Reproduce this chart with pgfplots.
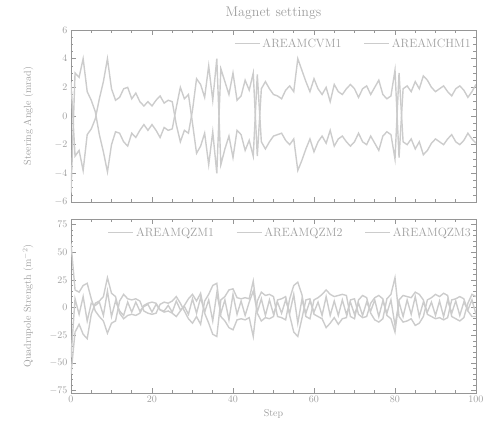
\documentclass[border=0pt]{standalone}
\usepackage{pgfplots}
\usepackage{pgfplotstable}
\pgfplotsset{compat=1.18}
\definecolor{linegray}{RGB}{204,204,204}
\definecolor{textgray}{RGB}{158,158,158}
\definecolor{framegray}{RGB}{150,150,150}

\pgfplotstableread{
s A B
0 -5.4 2.4
1 3.0 -2.8
2 2.7 -2.4
3 4.0 -3.8
4 1.7 -1.3
5 1.1 -0.9
6 0.3 -0.2
7 -1.3 1.2
8 -2.5 2.4
9 -3.9 4.0
10 -2.0 1.9
11 -1.1 1.1
12 -1.2 1.3
13 -1.8 1.9
14 -2.1 2.0
15 -1.2 1.2
16 -1.5 1.6
17 -1.0 1.0
18 -0.6 0.7
19 -1.0 1.0
20 -0.6 0.7
21 -1.0 1.1
22 -1.5 1.4
23 -0.8 0.9
24 -1.0 1.1
25 -0.9 1.0
26 0.6 -0.6
27 2.0 -1.8
28 1.2 -1.0
29 1.5 -1.2
30 -0.5 0.4
31 -2.6 2.6
32 -2.1 2.2
33 -1.2 1.3
34 -3.4 3.5
35 -1.1 1.1
36 -4.0 4.0
37 3.3 -3.4
38 2.4 -2.3
39 1.5 -1.4
40 3.0 -2.9
41 1.1 -1.0
42 1.4 -1.3
43 2.5 -2.4
44 1.8 -1.7
45 3.0 -2.8
46 -2.8 2.9
47 1.9 -1.8
48 2.4 -2.3
49 1.9 -1.8
50 1.5 -1.4
51 1.4 -1.3
52 1.2 -1.2
53 1.8 -1.7
54 2.1 -2.0
55 1.7 -1.6
56 4.0 -3.8
57 3.2 -3.1
58 2.4 -2.3
59 1.7 -1.6
60 2.6 -2.5
61 1.9 -1.8
62 1.5 -1.4
63 2.0 -1.9
64 1.0 -1.0
65 2.2 -2.1
66 1.7 -1.6
67 1.5 -1.4
68 1.9 -1.8
69 2.2 -2.1
70 1.9 -1.8
71 1.3 -1.2
72 1.9 -1.8
73 2.1 -2.0
74 1.5 -1.4
75 2.0 -1.9
76 2.5 -2.4
77 1.5 -1.4
78 1.2 -1.1
79 1.4 -1.3
80 3.2 -3.0
81 -2.9 3.0
82 1.9 -1.8
83 2.1 -2.0
84 1.7 -1.6
85 2.4 -2.3
86 1.9 -1.8
87 2.8 -2.7
88 2.5 -2.4
89 2.0 -1.9
90 1.7 -1.6
91 1.9 -1.8
92 2.1 -2.0
93 1.7 -1.6
94 1.4 -1.3
95 1.9 -1.8
96 2.1 -2.0
97 1.8 -1.7
98 1.3 -1.2
99 1.7 -1.6
100 2.2 -1.9
}\steer

\pgfplotstableread{
s Qa Qb Qc
0 58 -45 -60
1 16 8 -22
2 14 -6 -15
3 20 10 -24
4 22 -12 -28
5 8 4 -6
6 -3 2 4
7 -8 5 6
8 -12 -7 10
9 -23 15 27
10 -14 -8 13
11 -12 6 10
12 6 -3 -5
13 12 -7 -10
14 8 5 -7
15 7 -4 -6
16 8 5 -7
17 6 -3 -5
18 -3 1 2
19 -5 3 4
20 -6 -4 5
21 -5 3 4
22 3 -2 -2
23 5 -3 -4
24 4 2 -3
25 6 -4 -5
26 10 6 -8
27 4 -2 -3
28 -3 1 2
29 -10 -6 8
30 -14 8 12
31 -8 -5 6
32 -15 9 13
33 6 -4 -5
34 12 7 -14
35 20 -12 -24
36 22 13 -26
37 -8 -5 7
38 -12 7 10
39 -18 -11 16
40 -20 12 17
41 -11 -6 9
42 -10 6 8
43 -11 -7 9
44 -9 5 8
45 -26 15 24
46 6 -4 -5
47 14 8 -12
48 11 -7 -9
49 12 7 -10
50 10 -6 -8
51 -8 5 7
52 -9 -5 8
53 -11 7 10
54 8 -5 -7
55 20 12 -22
56 23 -14 -26
57 12 7 -10
58 -8 -5 7
59 -10 6 8
60 7 -4 -6
61 9 5 -8
62 12 -7 -10
63 16 10 -18
64 12 -7 -14
65 10 6 -9
66 11 -7 -15
67 12 7 -10
68 11 -6 -9
69 -8 5 7
70 -10 -6 8
71 7 4 -6
72 11 -7 -9
73 9 5 -8
74 -5 -3 4
75 -11 7 9
76 -13 -8 11
77 -10 6 8
78 8 -5 -7
79 12 7 -10
80 27 -16 -22
81 -8 5 7
82 -13 -8 11
83 -12 7 10
84 -10 -6 9
85 -16 10 14
86 -14 -8 12
87 -8 5 7
88 7 -4 -6
89 9 5 -8
90 12 -7 -10
91 10 6 -9
92 13 -8 -11
93 11 7 -9
94 -8 -5 7
95 -10 6 8
96 -12 -7 10
97 -9 5 8
98 4 -2 -3
99 12 7 -8
100 10 -6 -8
}\quads

\pgfplotsset{
  ln/.style={linegray, line width=1.4pt, mark=none},
  common/.style={
    scale only axis, width=405pt, xmin=0, xmax=100,
    axis line style={framegray, line width=0.8pt},
    every tick/.style={framegray, line width=0.6pt},
    major tick length=5pt, minor tick length=2.5pt,
    tick label style={font=\fontsize{10}{12}\selectfont, text=textgray},
    label style={font=\fontsize{10}{12}\selectfont, text=textgray},
    xtick={0,20,...,100}, minor x tick num=3,
    legend style={draw=none, fill=none, font=\fontsize{12}{14}\selectfont, text=textgray,
      /tikz/every even column/.append style={column sep=20pt}},
    legend columns=-1,
    legend cell align=left,
    legend image code/.code={\draw[#1] (0pt,0pt) -- (25pt,0pt);},
  }
}

\begin{document}
\begin{tikzpicture}
\path[use as bounding box] (-71pt,-36pt) rectangle (420pt,393pt);
\begin{axis}[common, at={(0pt,191pt)}, anchor=south west, height=172pt,
  ymin=-6, ymax=6, ytick={-6,-4,...,6}, minor y tick num=3,
  xticklabel=\empty,
  ylabel={Steering Angle (mrad)},
  ylabel style={at={(axis description cs:0,0.5)}, anchor=south, yshift=34pt},
  title={Magnet settings},
  title style={font=\fontsize{14}{16}\selectfont, text=textgray, yshift=1pt},
  legend style={at={(1.0,0.975)}, anchor=north east}]
\addplot[ln] table[x=s, y=A] {\steer};
\addlegendentry{AREAMCVM1}
\addplot[ln] table[x=s, y=B] {\steer};
\addlegendentry{AREAMCHM1}
\end{axis}
\begin{axis}[common, at={(0pt,0pt)}, anchor=south west, height=174pt,
  ymin=-77, ymax=80, ytick={-75,-50,...,75}, minor y tick num=4,
  xlabel={Step},
  ylabel={Quadrupole Strength (m$^{-2}$)},
  ylabel style={at={(axis description cs:0,0.5)}, anchor=south, yshift=34pt},
  legend style={at={(1.0,0.975)}, anchor=north east}]
\addplot[ln] table[x=s, y=Qa] {\quads};
\addlegendentry{AREAMQZM1}
\addplot[ln] table[x=s, y=Qb] {\quads};
\addlegendentry{AREAMQZM2}
\addplot[ln] table[x=s, y=Qc] {\quads};
\addlegendentry{AREAMQZM3}
\end{axis}
\end{tikzpicture}
\end{document}
